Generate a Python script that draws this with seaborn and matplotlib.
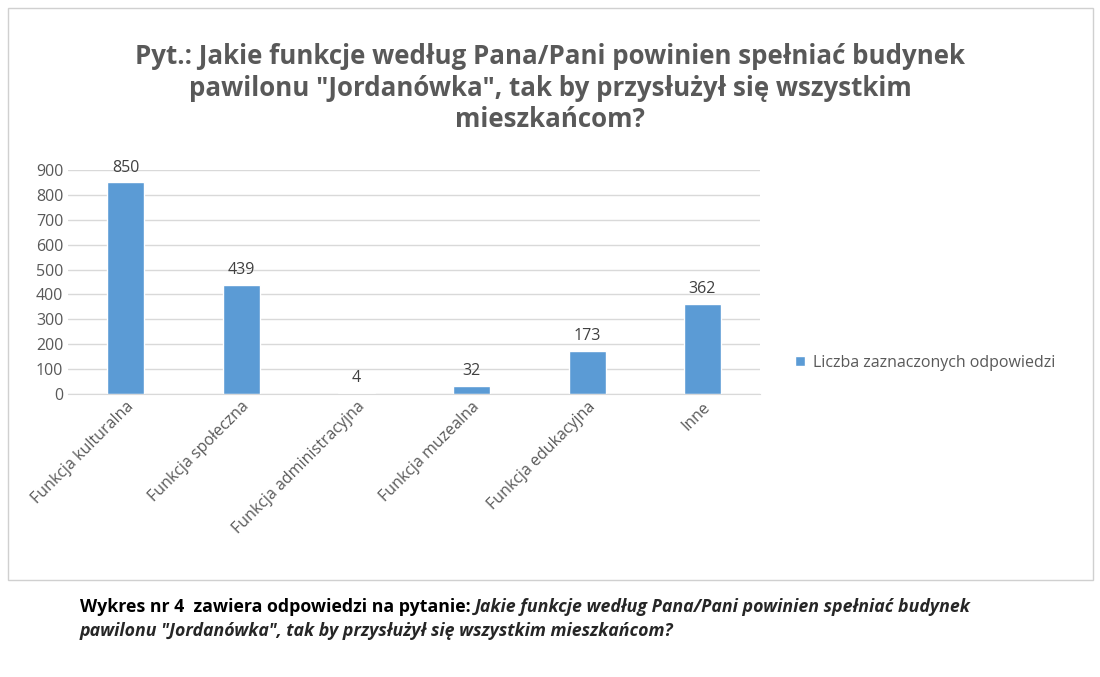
import matplotlib
matplotlib.use("Agg")
import matplotlib.pyplot as plt
import seaborn as sns
import pandas as pd
from matplotlib.patches import Rectangle

categories = ["Funkcja kulturalna", "Funkcja społeczna", "Funkcja administracyjna",
              "Funkcja muzealna", "Funkcja edukacyjna", "Inne"]
values = [850, 439, 4, 32, 173, 362]
yticks = [0, 100, 200, 300, 400, 500, 600, 700, 800, 900]
series_name = "Liczba zaznaczonych odpowiedzi"

sns.set_style("white")
plt.rcParams['font.family'] = ['Open Sans', 'DejaVu Sans']

fig = plt.figure(figsize=(11, 6.77), dpi=100)
fig.patches.append(Rectangle((8/1100, 1-580/677), 1085/1100, 572/677, transform=fig.transFigure,
                             fill=False, edgecolor="#d0d0d0", lw=1))
ax = fig.add_axes([0.062, 1-394/677, 0.629, 224/677])
df = pd.DataFrame({"cat": categories, "val": values, "s": series_name})
sns.barplot(data=df, x="cat", y="val", hue="s", palette=["#5B9BD5"], saturation=1,
            width=0.32, ax=ax, legend=True)
ax.set_ylim(0, 900)
ax.set_yticks(yticks)
ax.yaxis.grid(True, color="#d9d9d9", lw=1)
ax.set_axisbelow(True)
for s in ["top", "right", "left"]:
    ax.spines[s].set_visible(False)
ax.spines["bottom"].set_color("#d9d9d9")
ax.set_xlabel(""); ax.set_ylabel("")
ax.tick_params(axis="both", length=0, labelsize=11.5, colors="#595959")
plt.setp(ax.get_xticklabels(), rotation=45, ha="right", rotation_mode="anchor")
for c in ax.containers:
    ax.bar_label(c, padding=5, fontsize=11.5, color="#404040")
leg = ax.legend(loc="center left", bbox_to_anchor=(1.03, 0.14), frameon=False, fontsize=11.5,
                handlelength=0.6, handleheight=0.6, handletextpad=0.5)
for t in leg.get_texts():
    t.set_color("#595959")
fig.text(0.5, 1-88/677, 'Pyt.: Jakie funkcje według Pana/Pani powinien spełniać budynek\npawilonu "Jordanówka", tak by przysłużył się wszystkim\nmieszkańcom?',
         ha="center", va="center", fontsize=18.6, fontweight="bold", color="#595959", linespacing=1.2)
t1 = fig.text(80/1100, 1-607/677, "Wykres nr 4  zawiera odpowiedzi na pytanie: ", fontsize=12.8,
              fontweight="bold", va="center", color="black")
r = fig.canvas.get_renderer()
bb = t1.get_window_extent(r)
fig.text(bb.x1/1100, 1-607/677, "Jakie funkcje według Pana/Pani powinien spełniać budynek",
         fontsize=12.8, fontweight="bold", style="italic", va="center")
fig.text(80/1100, 1-631/677, 'pawilonu "Jordanówka", tak by przysłużył się wszystkim mieszkańcom?',
         fontsize=12.8, fontweight="bold", style="italic", va="center")
fig.savefig("out.png", dpi=100)
